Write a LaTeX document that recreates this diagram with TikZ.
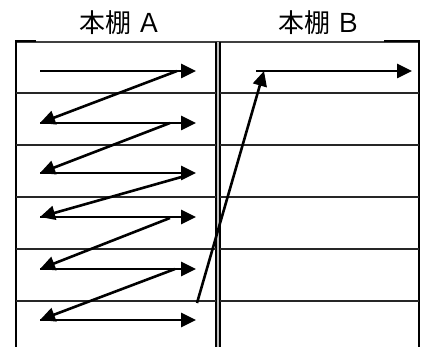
\documentclass[tikz,border=0pt]{standalone}
\usepackage{fontspec}
\newfontfamily\cjk{Noto Sans CJK JP}
\usetikzlibrary{arrows.meta}
\begin{document}
\begin{tikzpicture}[x=1pt,y=-1pt,
  arr/.style={line width=2.6pt,-{Triangle[length=15pt,width=14pt]}},
  grid/.style={line width=1.8pt,draw=black!85},
  frame/.style={line width=2.2pt},
  lbl/.style={font=\cjk\fontsize{26}{28}\selectfont,inner sep=0pt}]
\useasboundingbox (0,0) rectangle (426,347);
% labels
\node[lbl] (la) at (121,23) {本棚 Ａ};
\node[lbl] (lb) at (320,23) {本棚 Ｂ};
% top line
\draw[line width=1.2pt,draw=black!75] (16,42) -- (419,42);
\draw[frame] (36,41) -- (16,41) -- (16,347);
\draw[frame] (384,41) -- (419,41) -- (419,347);
% middle double line
\fill[black!25] (216,42) rectangle (220,347);
\draw[line width=1.4pt] (216,42) -- (216,347);
\draw[line width=1.4pt] (220,42) -- (220,347);
% grid lines
\foreach \yy in {93,145,197,249,301}{
  \draw[grid] (16,\yy) -- (216,\yy);
  \draw[grid] (220,\yy) -- (419,\yy);
}
% coordinates
\coordinate (s1) at (40,71);  \coordinate (e1) at (196,71);
\coordinate (s2) at (40,123); \coordinate (e2) at (196,123);
\coordinate (s3) at (40,173); \coordinate (e3) at (196,173);
\coordinate (s4) at (40,217); \coordinate (e4) at (196,217);
\coordinate (s5) at (40,269); \coordinate (e5) at (196,269);
\coordinate (s6) at (40,320); \coordinate (e6) at (196,320);
\coordinate (d1) at (177,71);
\coordinate (d2) at (170,123);
\coordinate (d3) at (185,176);
\coordinate (d4) at (170,218);
\coordinate (d5) at (175,269);
\coordinate (up) at (197,303);
\coordinate (bs) at (256,71);
\coordinate (be) at (412,71);
% horizontal arrows
\foreach \i in {1,...,6}{\draw[arr] (s\i) -- (e\i);}
% diagonals
\draw[arr] (d1) -- (s2);
\draw[arr] (d2) -- (s3);
\draw[arr] (d3) -- (s4);
\draw[arr] (d4) -- (s5);
\draw[arr] (d5) -- (s6);
% long arrow to B
\draw[arr] (up) -- (264,71);
\draw[arr] (bs) -- (be);
\end{tikzpicture}
\end{document}
